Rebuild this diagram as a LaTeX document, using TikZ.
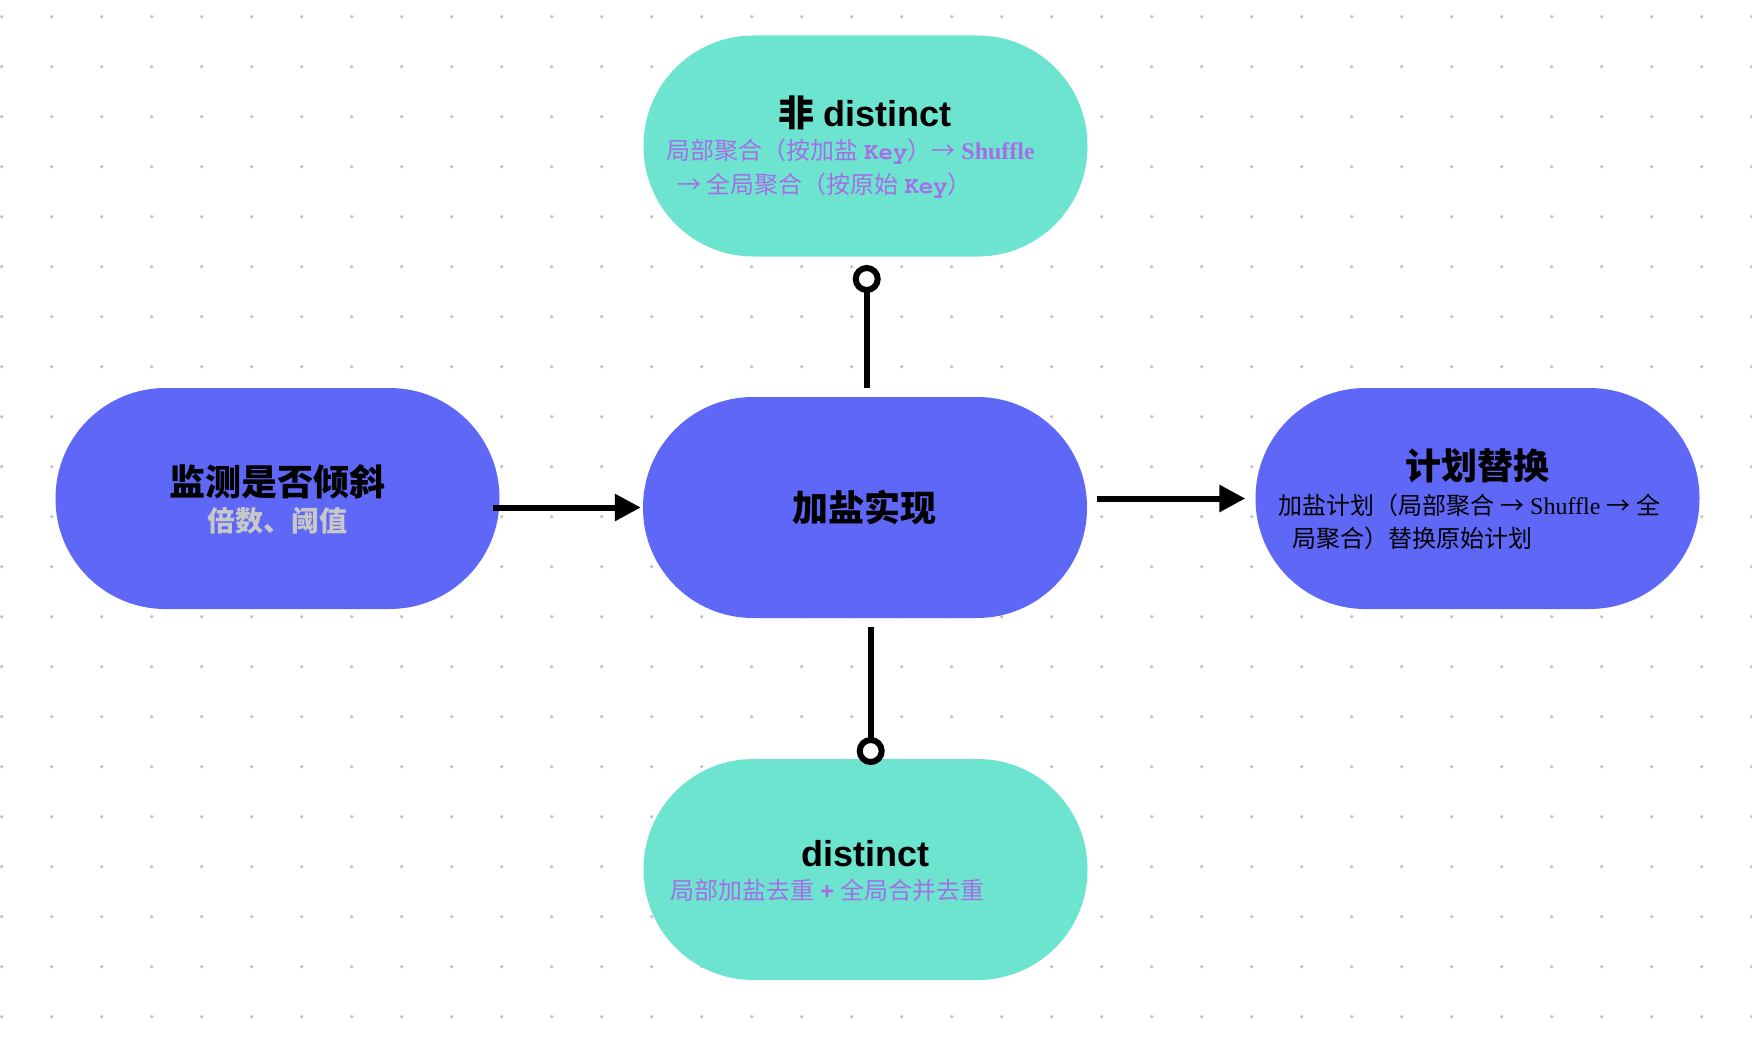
\documentclass[tikz,border=0pt]{standalone}
\usepackage{fontspec}
\setmainfont{Liberation Serif}
\setsansfont{Liberation Sans}
\setmonofont{TeX Gyre Cursor}
\newfontfamily\cjk{Noto Sans CJK SC}
\usetikzlibrary{arrows.meta}
\definecolor{tealfill}{HTML}{6DE4D0}
\definecolor{bluefill}{HTML}{5F67F7}
\definecolor{purptxt}{HTML}{A66EE6}
\definecolor{greytxt}{HTML}{C8C8C8}
\definecolor{dotgrey}{HTML}{C2C2C2}
\tikzset{
  stad/.style={rectangle, rounded corners=110pt, minimum width=444pt, minimum height=221pt, inner sep=0pt, draw=none},
  ttl/.style={anchor=base, inner sep=0pt, font=\fontsize{36}{40}\selectfont},
  subl/.style={anchor=base west, inner sep=0pt, font=\fontsize{24}{28}\selectfont},
  conn/.style={line width=6pt, black},
  tip/.style={-{Triangle[length=26pt,width=26pt]}},
}
\begin{document}
\begin{tikzpicture}[x=1pt,y=-1pt]
\useasboundingbox (0,0) rectangle (1752,1046);
\fill[white] (0,0) rectangle (1752,1046);
% dot grid
\foreach \i in {0,...,35} {
  \foreach \j in {0,...,20} {
    \fill[dotgrey] (1.7+50*\i, 16.7+50*\j) circle (1.8pt);
  }
}
% shapes
\node[stad, fill=tealfill] (top) at (865.5,146) {};
\node[stad, fill=bluefill] (mid) at (865,507.5) {};
\node[stad, fill=bluefill] (left) at (277.5,498.5) {};
\node[stad, fill=bluefill] (right) at (1477.5,498.5) {};
\node[stad, fill=tealfill] (bot) at (865.5,869.5) {};
% texts
\node[ttl] (toptitle) at (865,127) {{\cjk\bfseries 非} {\sffamily\bfseries distinct}};
\node[subl, text=purptxt] (topsub1) at (666,159) {{\cjk 局部聚合（按加盐} {\ttfamily\bfseries Key}{\cjk ）→} {\bfseries Shuffle}};
\node[subl, text=purptxt] (topsub2) at (677,193) {{\cjk → 全局聚合（按原始} {\ttfamily\bfseries Key}{\cjk ）}};
\node[ttl] (midtitle) at (864,521) {\cjk\bfseries 加盐实现};
\node[ttl] (lefttitle) at (277.5,495.5) {\cjk\bfseries 监测是否倾斜};
\node[ttl, text=greytxt, font=\fontsize{28}{32}\selectfont] (leftsub) at (277,531) {\cjk\bfseries 倍数、阈值};
\node[ttl] (righttitle) at (1477,479.5) {\cjk\bfseries 计划替换};
\node[subl] (rightsub1) at (1278,514) {{\cjk 加盐计划（局部聚合} {\cjk →} Shuffle {\cjk →} {\cjk 全}};
\node[subl] (rightsub2) at (1292,547) {\cjk 局聚合）替换原始计划};
\node[ttl] (bottitle) at (865.5,866) {\sffamily\bfseries distinct};
\node[subl, text=purptxt] (botsub) at (670,899) {{\cjk 局部加盐去重} {\sffamily\bfseries +} {\cjk 全局合并去重}};
% connectors
\draw[conn, tip] ([xshift=-7pt]left.east |- mid.west) -- ([xshift=-2pt]mid.west);
\draw[conn, tip] ([xshift=10pt]mid.east |- right.west) -- ([xshift=-10pt]right.west);
\coordinate (tc) at (866.7,279);
\draw[conn] ([yshift=9pt]mid.north -| tc) -- ([yshift=-11pt]tc);
\draw[conn, fill=white] (tc) circle (11pt);
\coordinate (bc) at (870.7,751);
\draw[conn] ([yshift=-9pt]mid.south -| bc) -- ([yshift=11pt]bc);
\draw[conn, fill=white] (bc) circle (11pt);
\end{tikzpicture}
\end{document}
